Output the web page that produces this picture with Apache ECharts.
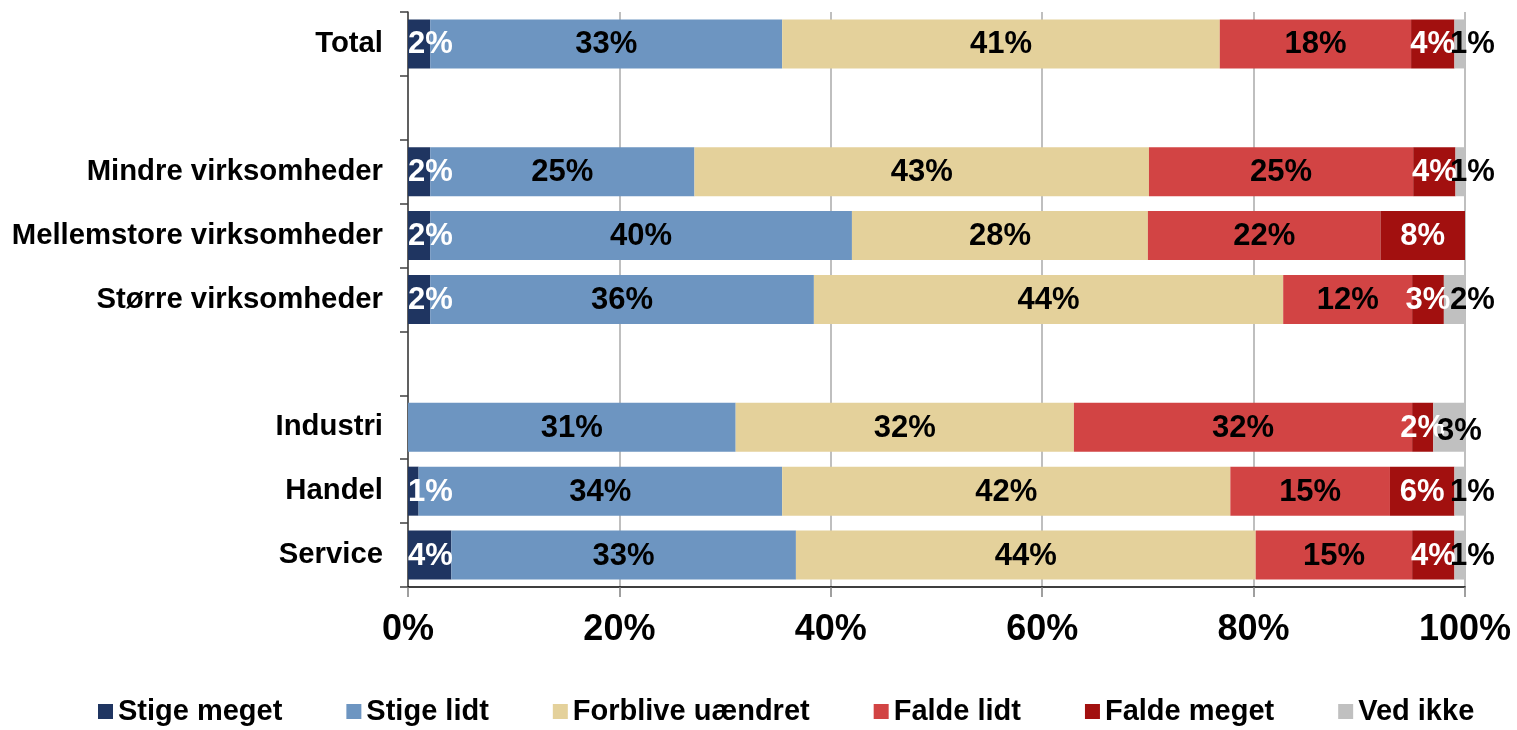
<!DOCTYPE html>
<html>
<head>
<meta charset="utf-8">
<script src="https://cdn.jsdelivr.net/npm/echarts@6/dist/echarts.min.js"></script>
<style>
html,body{margin:0;padding:0;background:#fff;}
#chart{width:1517px;height:730px;}
</style>
</head>
<body>
<div id="chart"></div>
<script>
const categories = ['Total', '', 'Mindre virksomheder', 'Mellemstore virksomheder', 'Større virksomheder', ' ', 'Industri', 'Handel', 'Service'];
const seriesNames = ['Stige meget', 'Stige lidt', 'Forblive uændret', 'Falde lidt', 'Falde meget', 'Ved ikke'];
const stigeMeget  = [2.1, null, 2.1, 2.1, 2.1, null, 0,    1.0, 4.1];
const stigeLidt   = [33.3, null, 25.0, 39.9, 36.3, null, 31.0, 34.4, 32.6];
const forblive    = [41.4, null, 43.0, 28.0, 44.4, null, 32.0, 42.4, 43.5];
const faldeLidt   = [18.1, null, 25.0, 22.0, 12.2, null, 32.0, 15.1, 14.8];
const faldeMeget  = [4.1, null, 4.0, 8.0, 3.0, null, 2.0, 6.1, 4.0];
const vedIkke     = [1.0, null, 1.0, 0, 2.0, null, 3.0, 1.0, 1.0];
const xTicks = [0, 20, 40, 60, 80, 100];

const colors = ['#1f3561', '#6d95c1', '#e4d19b', '#d24444', '#a2100f', '#c0c0c0'];
const labelColors = ['#ffffff', '#000000', '#000000', '#000000', '#ffffff', '#000000'];
const allData = [stigeMeget, stigeLidt, forblive, faldeLidt, faldeMeget, vedIkke];
const FONT = '"Liberation Sans", Arial, sans-serif';

const labelPos = [
  {position: 'insideLeft', distance: 0},
  {position: 'inside'},
  {position: 'inside'},
  {position: 'inside'},
  {position: 'inside'},
  {position: 'right', distance: -15}
];

const series = seriesNames.map((name, i) => ({
  name: name,
  type: 'bar',
  stack: 'total',
  barWidth: 49,
  data: allData[i].map((v, j) => {
    // Excel nudged this one overlapping label left/down
    if (i === 5 && categories[j] === 'Industri') {
      return {value: v, label: {offset: [-13, 4]}};
    }
    return v;
  }),
  itemStyle: {color: colors[i]},
  label: Object.assign({
    show: true,
    color: labelColors[i],
    fontFamily: FONT,
    fontWeight: 'bold',
    fontSize: 31,
    offset: [0, 1],
    formatter: p => (p.value ? Math.round(p.value) + '%' : '')
  }, labelPos[i])
}));

const chart = echarts.init(document.getElementById('chart'), null, {renderer: 'canvas'});
chart.setOption({
  animation: false,
  backgroundColor: '#ffffff',
  grid: {left: 408, right: 52, top: 12, bottom: 143, containLabel: false},
  legend: {
    data: seriesNames,
    left: 98,
    top: 697,
    padding: 0,
    icon: 'rect',
    itemWidth: 15,
    itemHeight: 15,
    itemGap: 64,
    textStyle: {fontFamily: FONT, fontWeight: 'bold', fontSize: 29, color: '#000'}
  },
  xAxis: {
    type: 'value',
    min: xTicks[0],
    max: xTicks[xTicks.length - 1],
    interval: xTicks[1] - xTicks[0],
    axisLine: {show: true, lineStyle: {color: '#000', width: 1.5}},
    axisTick: {show: true, length: 10, lineStyle: {color: '#808080', width: 1.5}},
    splitLine: {show: true, lineStyle: {color: '#bfbfbf', width: 2}},
    axisLabel: {
      formatter: '{value}%',
      fontFamily: FONT, fontWeight: 'bold', fontSize: 36, color: '#000',
      margin: 25
    }
  },
  yAxis: {
    type: 'category',
    inverse: true,
    data: categories,
    axisLine: {show: true, lineStyle: {color: '#404040', width: 1.5}},
    axisTick: {show: true, length: 8, lineStyle: {color: '#404040', width: 1.5}},
    axisLabel: {
      fontFamily: FONT, fontWeight: 'bold', fontSize: 29.3, color: '#000',
      margin: 25
    }
  },
  series: series
});
</script>
</body>
</html>
